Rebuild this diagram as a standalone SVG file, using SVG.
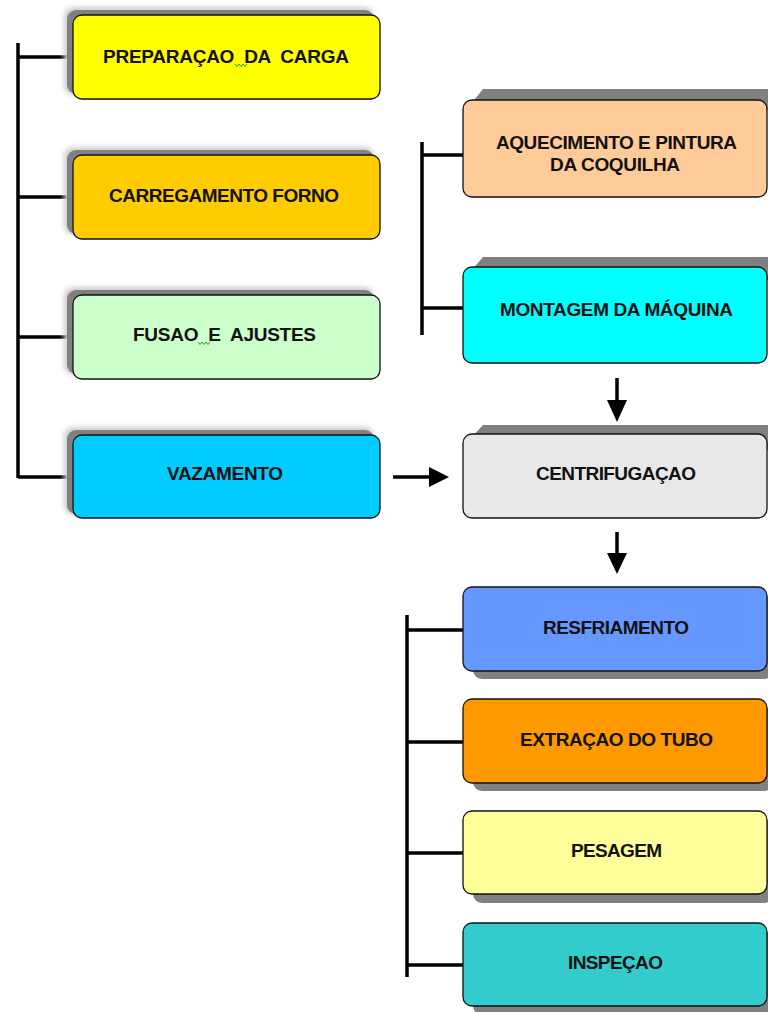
<svg xmlns="http://www.w3.org/2000/svg" width="768" height="1012" viewBox="0 0 768 1012">
<style>
.box{stroke:#111;stroke-width:1.3}
.sh{fill:#808080}
.halo{fill:#cfcfcf;filter:url(#blur)}
.t{font-family:"Liberation Sans",Arial,sans-serif;font-weight:bold;font-size:19px;fill:#111}
.ln{stroke:#000;stroke-width:3.5;fill:none}
.ar{stroke:#000;stroke-width:3.5;fill:none}
.hd{fill:#000}
.sq{stroke:#2a9a2a;stroke-width:1;fill:none}
</style>
<defs>
<filter id="blur" x="-10%" y="-20%" width="120%" height="140%"><feGaussianBlur stdDeviation="2.5"/></filter>
</defs>
<rect width="768" height="1012" fill="#fff"/>

<g id="connectors">
<path class="ln" d="M18 43V478M18 57H73M18 197H73M18 337H73M18 477H73"/>
<path class="ln" d="M422 142V335M422 155H463M422 308H463"/>
<path class="ln" d="M407 615V977M407 630H463M407 742H463M407 853H463M407 965H463"/>
<path class="ar" d="M617 378V402"/>
<polygon class="hd" points="607,400 627,400 617,422"/>
<path class="ar" d="M393 477H431"/>
<polygon class="hd" points="429,467 429,487 449,477"/>
<path class="ar" d="M617 532V555"/>
<polygon class="hd" points="607,553 627,553 617,574"/>
</g>

<g id="n1">
<rect class="halo" x="64" y="7" width="310" height="88" rx="9"/>
<rect class="sh" x="67" y="10" width="307" height="84" rx="9"/>
<rect class="box" x="73" y="15" width="307" height="84" rx="9" fill="#FFFF00"/>
<text class="t" x="103" y="63" textLength="246" lengthAdjust="spacing" xml:space="preserve">PREPARAÇAO  DA  CARGA</text>
<polyline class="sq" points="235,64 237,66.5 239,64 241,66.5 243,64 245,66.5 247,64"/>
</g>

<g id="n2">
<rect class="halo" x="64" y="147" width="310" height="88" rx="9"/>
<rect class="sh" x="67" y="150" width="307" height="84" rx="9"/>
<rect class="box" x="73" y="155" width="307" height="84" rx="9" fill="#FFCC00"/>
<text class="t" x="109" y="202" textLength="230" lengthAdjust="spacing">CARREGAMENTO FORNO</text>
</g>

<g id="n3">
<rect class="halo" x="64" y="287" width="310" height="88" rx="9"/>
<rect class="sh" x="67" y="290" width="307" height="84" rx="9"/>
<rect class="box" x="73" y="295" width="307" height="84" rx="9" fill="#CCFFCC"/>
<text class="t" x="133" y="341" textLength="183" lengthAdjust="spacing" xml:space="preserve">FUSAO  E  AJUSTES</text>
<polyline class="sq" points="198,342 200,344.5 202,342 204,344.5 206,342 208,344.5 210,342"/>
</g>

<g id="n4">
<rect class="halo" x="64" y="427" width="310" height="88" rx="9"/>
<rect class="sh" x="67" y="430" width="307" height="84" rx="9"/>
<rect class="box" x="73" y="435" width="307" height="83" rx="9" fill="#00CCFF"/>
<text class="t" x="167" y="480" textLength="116" lengthAdjust="spacing">VAZAMENTO</text>
</g>

<g id="n5">
<path class="sh" d="M471 104L483 89H768V110H471Z"/>
<rect class="box" x="463" y="100" width="304" height="97" rx="9" fill="#FFCC99"/>
<text class="t" x="496" y="149" textLength="241" lengthAdjust="spacing">AQUECIMENTO E PINTURA</text>
<text class="t" x="550" y="171" textLength="130" lengthAdjust="spacing">DA COQUILHA</text>
</g>

<g id="n6">
<path class="sh" d="M471 271L483 257H768V280H471Z"/>
<rect class="box" x="463" y="267" width="304" height="96" rx="9" fill="#00FFFF"/>
<text class="t" x="500" y="316" textLength="233" lengthAdjust="spacing">MONTAGEM DA MÁQUINA</text>
</g>

<g id="n7">
<path class="sh" d="M471 438L483 425H768V450H471Z"/>
<rect class="box" x="463" y="434" width="304" height="84" rx="9" fill="#E8E8E8"/>
<text class="t" x="536" y="480" textLength="160" lengthAdjust="spacing">CENTRIFUGAÇAO</text>
</g>

<g id="n8">
<rect class="sh" x="473" y="595" width="300" height="84" rx="9"/>
<rect class="box" x="463" y="587" width="304" height="84" rx="9" fill="#6699FF"/>
<text class="t" x="543" y="634" textLength="146" lengthAdjust="spacing">RESFRIAMENTO</text>
</g>

<g id="n9">
<rect class="sh" x="473" y="707" width="300" height="84" rx="9"/>
<rect class="box" x="463" y="699" width="304" height="84" rx="9" fill="#FF9900"/>
<text class="t" x="520" y="746" textLength="193" lengthAdjust="spacing">EXTRAÇAO DO TUBO</text>
</g>

<g id="n10">
<rect class="sh" x="473" y="819" width="300" height="84" rx="9"/>
<rect class="box" x="463" y="811" width="304" height="83" rx="9" fill="#FFFF99"/>
<text class="t" x="571" y="857" textLength="91" lengthAdjust="spacing">PESAGEM</text>
</g>

<g id="n11">
<rect class="sh" x="473" y="931" width="300" height="84" rx="9"/>
<rect class="box" x="463" y="923" width="304" height="83" rx="9" fill="#33CCCC"/>
<text class="t" x="568" y="969" textLength="95" lengthAdjust="spacing">INSPEÇAO</text>
</g>
</svg>
